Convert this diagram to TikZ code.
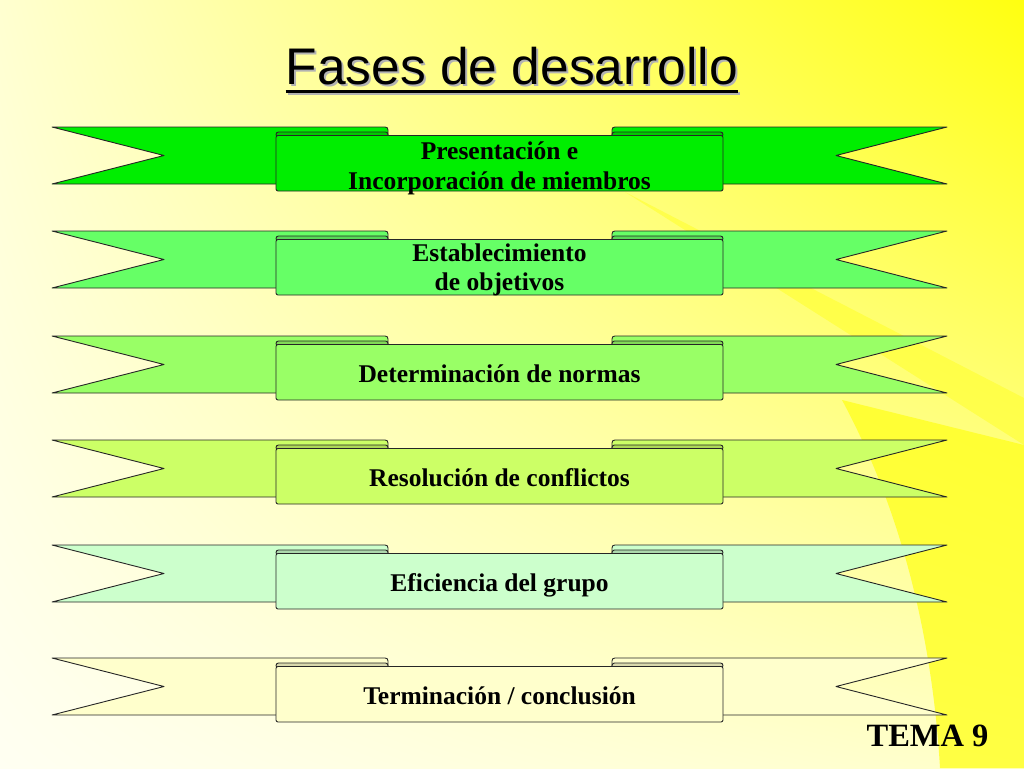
\documentclass[tikz,border=0pt]{standalone}
\usepackage{fontspec}
\usetikzlibrary{shadings}
\setmainfont{Liberation Serif}
\newfontfamily\arialfont{Liberation Sans}
\definecolor{rowA}{HTML}{00EE00}
\definecolor{rowB}{HTML}{66FF66}
\definecolor{rowC}{HTML}{99FF66}
\definecolor{rowD}{HTML}{CCFF66}
\definecolor{rowE}{HTML}{CCFFCC}
\definecolor{rowF}{HTML}{FFFFCC}
\definecolor{bgbright}{HTML}{FFFF22}
\definecolor{bgUL}{HTML}{FFFFD0}
\definecolor{bgUR}{HTML}{FFFF10}
\definecolor{bgLL}{HTML}{FFFFF2}
\definecolor{bgLR}{HTML}{FFFFC8}
\tikzset{
  band/.style={draw=black!85, line width=0.9pt, line join=round},
  bandtext/.style={font=\bfseries\fontsize{25.5}{29.5}\selectfont, anchor=base, inner sep=0pt},
  titletext/.style={font=\arialfont\fontsize{51.5}{60}\selectfont, anchor=base, inner sep=0pt},
}
\newcommand\ribbonrow[2]{%
  \path[band, fill=#2] (52,#1) -- (385,#1) .. controls (387,#1) and (388,#1+1) .. (388,#1+3)
     -- (388,#1+57) -- (52,#1+57) -- (164,#1+28.5) -- cycle;
  \path[band, fill=#2] (947,#1) -- (615,#1) .. controls (613,#1) and (612,#1+1) .. (612,#1+3)
     -- (612,#1+57) -- (947,#1+57) -- (836,#1+28.5) -- cycle;
  \path[band, fill=#2!85!black, rounded corners=2.5] (276,#1+5) rectangle (388,#1+10);
  \path[band, fill=#2!85!black, rounded corners=2.5] (612,#1+5) rectangle (723,#1+10);
  \path[band, fill=#2, rounded corners=2] (276,#1+8.5) rectangle (723,#1+64);
}
\begin{document}
\begin{tikzpicture}[x=1pt,y=-1pt]
\useasboundingbox (0,0) rectangle (1024,768);
% background
\shade[upper left=bgUL, upper right=bgUR, lower left=bgLL, lower right=bgLR] (0,0) rectangle (1024,768);
\fill[bgbright, opacity=0.5] (625,192) -- (1024,398) -- (1024,445) -- cycle;
\fill[bgbright, opacity=0.8] (842,400) .. controls (885,480) and (930,600) .. (940,768) -- (1024,768) -- (1024,445) -- cycle;
% title
\node[titletext, text=black!30] (titleshadow) at (514,86) {Fases de desarrollo};
\draw[black!30, line width=3pt] ([yshift=-7pt]titleshadow.base west) -- ([yshift=-7pt]titleshadow.base east);
\node[titletext] (title) at (512,84) {Fases de desarrollo};
\draw[black, line width=3pt] ([yshift=-7pt]title.base west) -- ([yshift=-7pt]title.base east);
% ribbons
\ribbonrow{127}{rowA}
\ribbonrow{231}{rowB}
\ribbonrow{336}{rowC}
\ribbonrow{440}{rowD}
\ribbonrow{545}{rowE}
\ribbonrow{658}{rowF}
\node[bandtext] (t1a) at (499.5,159.5) {Presentación e};
\node[bandtext] (t1b) at (499.5,189.3) {Incorporación de miembros};
\node[bandtext] (t2a) at (499.5,261) {Establecimiento};
\node[bandtext] (t2b) at (499.5,290) {de objetivos};
\node[bandtext] (t3) at (499.5,382) {Determinación de normas};
\node[bandtext] (t4) at (499.5,486.5) {Resolución de conflictos};
\node[bandtext] (t5) at (499.5,591) {Eficiencia del grupo};
\node[bandtext] (t6) at (499.5,704) {Terminación / conclusión};
% tema
\node[font=\bfseries\fontsize{32.5}{36}\selectfont, anchor=base, inner sep=0pt] (tema) at (927.5,746) {TEMA 9};
\end{tikzpicture}
\end{document}
